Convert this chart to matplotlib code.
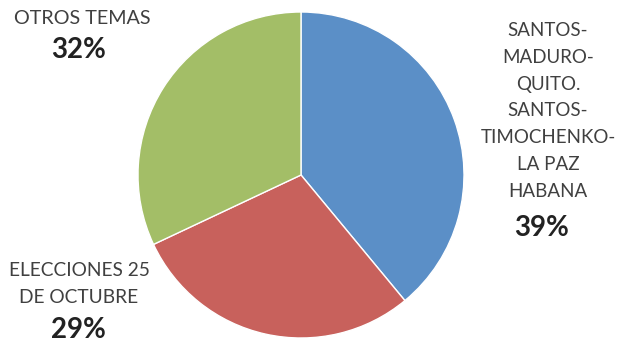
import matplotlib
matplotlib.use("Agg")
import matplotlib.pyplot as plt

plt.rcParams['font.family'] = ['Lato', 'DejaVu Sans']

# datos del grafico
temas = ['SANTOS-\nMADURO-\nQUITO.\nSANTOS-\nTIMOCHENKO-\nLA PAZ\nHABANA',
         'ELECCIONES 25\nDE OCTUBRE',
         'OTROS TEMAS']
valores = [39, 29, 32]
etiquetas = ['39%', '29%', '32%']
colores = ['#5b8fc7', '#c8615c', '#a3be67']

W, H = 622, 350
fig = plt.figure(figsize=(W / 100, H / 100), dpi=100)

cx, cy, r = 301, 175, 163
ax = fig.add_axes([(cx - r) / W, (H - cy - r) / H, 2 * r / W, 2 * r / H])
ax.pie(valores, colors=colores, startangle=90, counterclock=False,
       wedgeprops=dict(edgecolor='white', linewidth=1))
ax.set_xlim(-1, 1)
ax.set_ylim(-1, 1)
ax.set_aspect('equal')
ax.axis('off')


def texto(x, y, s, **kw):
    fig.text(x / W, 1 - y / H, s, ha='center', va='center', **kw)


# etiquetas (posiciones en pixeles)
texto(548, 111, temas[0], fontsize=13.5, color='#404040', linespacing=1.7)
texto(542, 228, etiquetas[0], fontsize=20, fontweight='bold', color='#222222')

texto(79, 284, temas[1], fontsize=13.8, color='#404040', linespacing=1.7)
texto(78, 330, etiquetas[1], fontsize=20, fontweight='bold', color='#222222')

texto(82, 18, temas[2], fontsize=14.2, color='#404040')
texto(79, 50, etiquetas[2], fontsize=20, fontweight='bold', color='#222222')

fig.savefig('out.png', dpi=100)
